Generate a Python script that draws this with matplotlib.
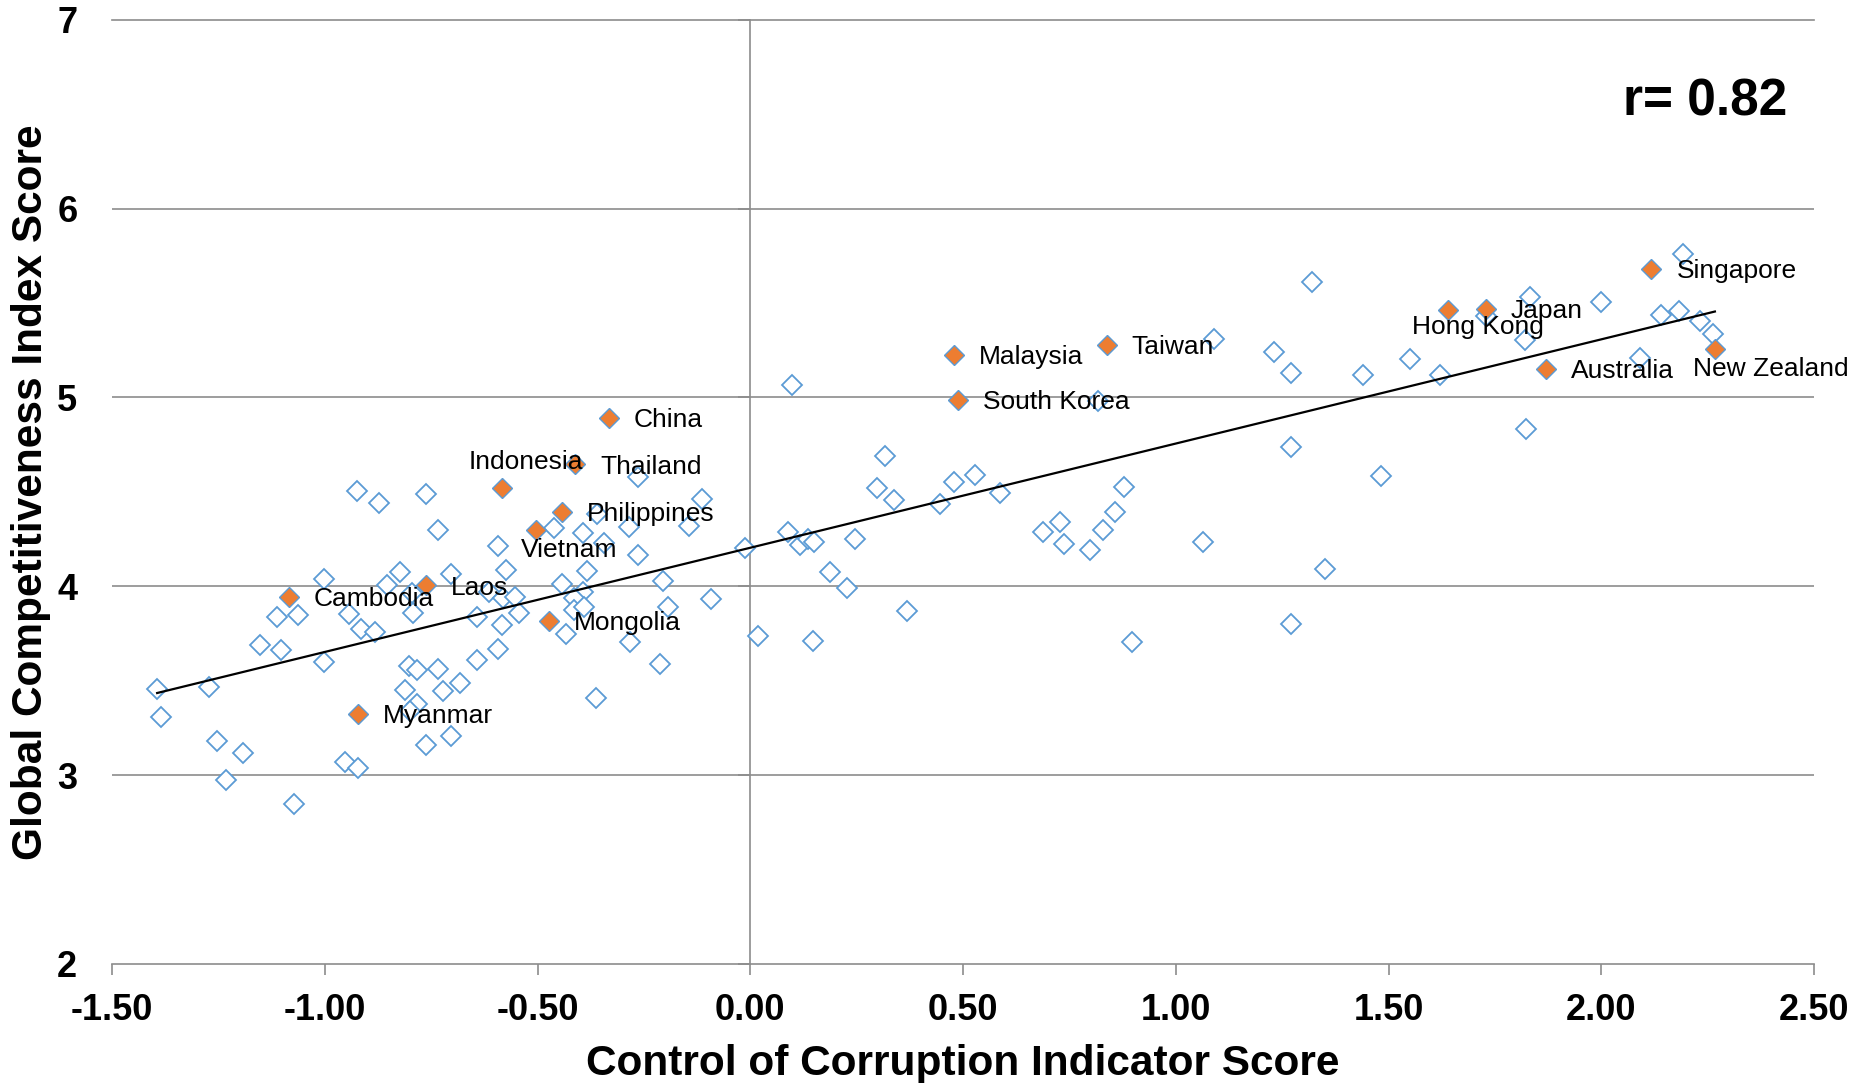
import numpy as np
import matplotlib.pyplot as plt

plt.rcParams['font.family'] = ['Liberation Sans', 'DejaVu Sans']
plt.rcParams['axes.unicode_minus'] = False

# all other economies (open markers): control of corruption score, GCI score
other_x = [-1.394, -1.384, -1.273, -1.254, -1.193, -1.233, -1.153, -1.102, -1.113, -1.063,
           -1.003, -1.003, -1.073, -0.924, -0.873, -0.763, -0.733, -0.944, -0.914, -0.883,
           -0.853, -0.823, -0.795, -0.793, -0.953, -0.923, -0.803, -0.783, -0.812, -0.783,
           -0.800, -0.733, -0.722, -0.682, -0.763, -0.704, -0.704, -0.643, -0.643, -0.593,
           -0.583, -0.592, -0.573, -0.614, -0.581, -0.552, -0.543,
           -0.462, -0.393, -0.361, -0.343, -0.284, -0.263, -0.263, -0.144, -0.114, -0.383,
           -0.443, -0.393, -0.414, -0.414, -0.391, -0.433, -0.283, -0.204, -0.193, -0.212,
           -0.363, -0.093, -0.013, 0.017, 0.088, 0.117, 0.136, 0.149, 0.187, 0.228,
           0.247, 0.148, 0.317, 0.297, 0.337, 0.097,
           0.368, 0.447, 0.478, 0.528, 0.588, 0.688, 0.728, 0.738, 0.798, 0.828,
           0.857, 0.878, 0.818, 0.898, 1.064,
           1.321, 1.090, 1.230, 1.270, 1.441, 1.551, 1.620, 1.270, 1.482, 1.351,
           1.270, 1.823, 1.832, 1.820, 1.730, 2.000, 2.140, 2.182, 2.192, 2.233,
           2.262, 2.090]
other_y = [3.458, 3.306, 3.466, 3.182, 3.117, 2.972, 3.691, 3.664, 3.839, 3.850,
           4.039, 3.599, 2.846, 4.507, 4.442, 4.488, 4.297, 3.853, 3.772, 3.760,
           4.005, 4.076, 3.965, 3.857, 3.070, 3.039, 3.578, 3.554, 3.453, 3.378,
           3.337, 3.562, 3.446, 3.488, 3.161, 3.206, 4.064, 3.837, 3.611, 3.666,
           3.795, 4.214, 4.088, 3.968, 3.938, 3.943, 3.857,
           4.310, 4.283, 4.385, 4.227, 4.316, 4.577, 4.168, 4.320, 4.462, 4.083,
           4.013, 3.969, 3.936, 3.875, 3.888, 3.746, 3.707, 4.026, 3.890, 3.590,
           3.408, 3.935, 4.205, 3.739, 4.285, 4.221, 4.251, 4.237, 4.074, 3.991,
           4.251, 3.708, 4.689, 4.521, 4.456, 5.066,
           3.868, 4.436, 4.550, 4.589, 4.494, 4.287, 4.339, 4.224, 4.190, 4.296,
           4.392, 4.524, 4.982, 3.707, 4.233,
           5.610, 5.309, 5.240, 5.129, 5.120, 5.203, 5.118, 4.737, 4.582, 4.092,
           3.802, 4.832, 5.532, 5.306, 5.430, 5.507, 5.436, 5.457, 5.762, 5.404,
           5.336, 5.208]

# highlighted Asia-Pacific economies
names = ['Cambodia', 'Laos', 'Myanmar', 'Mongolia', 'Vietnam', 'Philippines', 'Thailand',
         'Indonesia', 'China', 'Malaysia', 'South Korea', 'Taiwan', 'Hong Kong', 'Japan',
         'Singapore', 'Australia', 'New Zealand']
hl_x = [-1.084, -0.763, -0.923, -0.473, -0.504, -0.443, -0.412, -0.583, -0.332, 0.478,
        0.487, 0.838, 1.640, 1.729, 2.118, 1.869, 2.267]
hl_y = [3.942, 4.004, 3.323, 3.818, 4.300, 4.394, 4.645, 4.523, 4.892, 5.226,
        4.988, 5.279, 5.465, 5.470, 5.680, 5.152, 5.256]

xticks = [-1.5, -1.0, -0.5, 0.0, 0.5, 1.0, 1.5, 2.0, 2.5]
xtick_labels = ['-1.50', '-1.00', '-0.50', '0.00', '0.50', '1.00', '1.50', '2.00', '2.50']
yticks = [2, 3, 4, 5, 6, 7]

# label offsets in points (default: to the right of the marker)
offsets = {'Vietnam': (-11, -14.5), 'Indonesia': (-24.5, 18.5),
           'Hong Kong': (-26, -12.5), 'New Zealand': (-16, -14.5)}

blue = '#5B9BD5'
orange = '#ED7D31'
grey = '#8C8C8C'

fig = plt.figure(figsize=(18.52, 10.83), dpi=100)
ax = fig.add_axes([0.0605, 0.110, 0.919, 0.8717])
ax.set_xlim(-1.5, 2.5)
ax.set_ylim(2, 7)

for y in yticks[1:-1]:
    ax.axhline(y, color=grey, lw=1.2, zorder=1)
for s in ['left', 'right']:
    ax.spines[s].set_visible(False)
for s in ['top', 'bottom']:
    ax.spines[s].set_color(grey)
    ax.spines[s].set_linewidth(1.2)

# vertical axis crossing at x = 0
sec = ax.secondary_yaxis(0.0, transform=ax.transData)
sec.spines['left'].set_color(grey)
sec.spines['left'].set_linewidth(1.2)
sec.set_yticks(yticks)
sec.set_yticklabels([])
sec.tick_params(axis='y', length=8.5, width=1.2, color=grey, direction='out')

ax.plot(other_x, other_y, 'D', ms=10, mfc='white', mec=blue, mew=1.3, zorder=3, clip_on=False)
ax.plot(hl_x, hl_y, 'D', ms=10, mfc=orange, mec=blue, mew=1.0, zorder=4, clip_on=False)

# linear trend through all points
all_x = np.array(other_x + hl_x)
all_y = np.array(other_y + hl_y)
k, b = np.polyfit(all_x, all_y, 1)
tx = np.array([all_x.min(), all_x.max()])
ax.plot(tx, k * tx + b, color='black', lw=1.6, zorder=5)

for n, x, y in zip(names, hl_x, hl_y):
    dx, dy = offsets.get(n, (18, -1.5))
    ax.annotate(n, (x, y), xytext=(dx, dy), textcoords='offset points',
                ha='left', va='center', fontsize=19, zorder=6, annotation_clip=False)

ax.set_xticks(xticks)
ax.set_xticklabels(xtick_labels)
ax.set_yticks(yticks)
ax.tick_params(axis='x', length=8, width=1.2, color=grey, pad=13, labelsize=26)
ax.tick_params(axis='y', length=0, pad=25, labelsize=26)
for t in ax.get_xticklabels() + ax.get_yticklabels():
    t.set_fontweight('bold')

ax.text(0.984, 0.913, 'r= 0.82', transform=ax.transAxes, ha='right', va='center',
        fontsize=37, fontweight='bold')

fig.text(0.52, 0.0175, 'Control of Corruption Indicator Score', ha='center', va='center',
         fontsize=30.5, fontweight='bold')
fig.text(0.017, 0.5457, 'Global Competitiveness Index Score', ha='center', va='center',
         rotation=90, fontsize=30.5, fontweight='bold')

fig.savefig('out.png', dpi=100)
